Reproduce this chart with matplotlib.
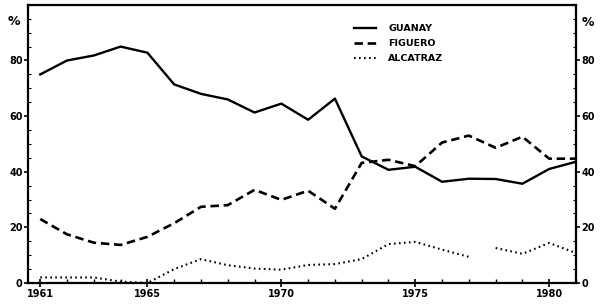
import numpy as np
import matplotlib
matplotlib.use("Agg")
import matplotlib.pyplot as plt
from matplotlib.ticker import MultipleLocator

# yearly shares (%)
years = list(range(1961, 1982))
guanay = [75, 80, 81.8, 85, 82.8, 71.4, 68, 66, 61.3, 64.5, 58.7, 66.3,
          45.5, 40.7, 41.8, 36.4, 37.5, 37.4, 35.7, 41, 43.6]
figuero = [23, 17.5, 14.5, 13.7, 16.6, 21.5, 27.4, 28, 33.5, 29.9, 33.2, 26.7,
           43.2, 44.3, 42, 50.5, 53, 48.6, 52.6, 44.7, 44.7]
alcatraz = [2, 2, 2, 0.5, 0, 5, 8.6, 6.4, 5.2, 4.8, 6.5, 6.8,
            8.6, 14, 14.8, 12, 9.4, 12.6, 10.5, 14.4, 10.8]
labels = ["GUANAY", "FIGUERO", "ALCATRAZ"]
xticks = [1961, 1965, 1970, 1975, 1980]
yticks = [0, 20, 40, 60, 80]

fig = plt.figure(figsize=(6, 3.04), dpi=100)
ax = fig.add_axes([0.047, 0.069, 0.913, 0.915])

ax.plot(years, guanay, color="black", lw=1.7, label=labels[0])
ax.plot(years, figuero, color="black", lw=1.9, dashes=(3.2, 1.8), label=labels[1])
# alcatraz has a break between 1977 and 1978
a = np.array(alcatraz)
y = np.array(years)
ax.plot(y[y <= 1977], a[y <= 1977], color="black", lw=1.5, dashes=(0.8, 1.6), label=labels[2])
ax.plot(y[y >= 1978], a[y >= 1978], color="black", lw=1.5, dashes=(0.8, 1.6))

ax.set_xlim(1960.55, 1981)
ax.set_ylim(0, 100)
ax.set_xticks(xticks)
ax.set_xticklabels([str(t) for t in xticks], fontsize=7, fontweight="bold")
ax.xaxis.set_minor_locator(MultipleLocator(1))
ax.tick_params(axis="x", which="major", direction="inout", length=6, width=1.2, pad=1)
ax.tick_params(axis="x", which="minor", direction="in", length=3, width=1)
ax.set_yticks(yticks)
ax.set_yticklabels([str(t) for t in yticks], fontsize=7, fontweight="bold")
ax.yaxis.set_minor_locator(MultipleLocator(5))
ax.tick_params(axis="y", which="major", direction="out", length=3, width=1.2,
               left=True, right=True, labelleft=True, labelright=True, pad=1)
ax.tick_params(axis="y", which="minor", direction="in", length=2, width=0.8,
               left=True, right=True)
for s in ax.spines.values():
    s.set_linewidth(1.6)

fig.text(0.012, 0.93, "%", fontsize=9, fontweight="bold", ha="left", va="center")
fig.text(0.97, 0.925, "%", fontsize=9, fontweight="bold", ha="left", va="center")

leg = ax.legend(loc="upper left", bbox_to_anchor=(0.58, 0.96), frameon=False,
                prop={"size": 6.8, "weight": "bold"}, handlelength=2.3,
                handletextpad=1.3, labelspacing=0.6)

fig.savefig("out.png", dpi=100)
